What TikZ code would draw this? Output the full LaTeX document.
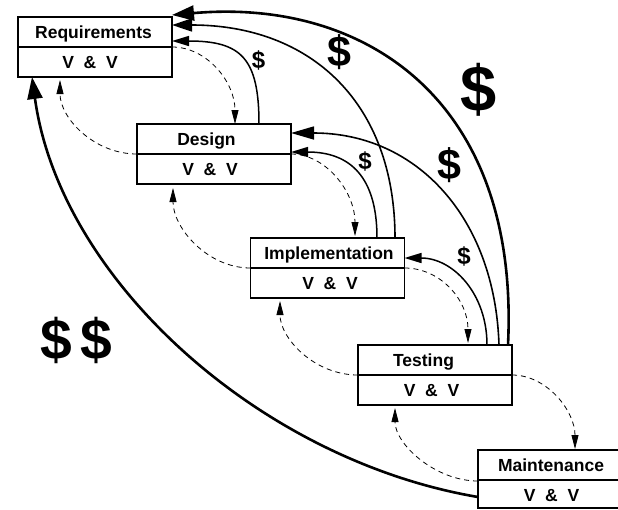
\documentclass[tikz,border=0pt]{standalone}
\usepackage{fontspec}
\setmainfont{Liberation Sans}
\usetikzlibrary{arrows.meta,calc}
\begin{document}
\begin{tikzpicture}[x=1pt,y=-1pt,
  box/.style={draw,line width=1.6pt,minimum width=154pt,minimum height=60pt,inner sep=0pt,outer sep=0pt},
  lbl/.style={font=\fontsize{17.5}{20}\selectfont\bfseries,inner sep=0pt,anchor=base},
  cost/.style={font=\fontsize{#1}{#1}\selectfont\bfseries,inner sep=0pt},
  back/.style={line width=1.5pt,-{Triangle[length=17pt,width=10pt]}},
  backmid/.style={line width=1.6pt,-{Triangle[length=20pt,width=13pt]}},
  backbig/.style={line width=1.6pt,-{Triangle[length=23pt,width=13pt]}},
  backthick/.style={line width=2.6pt,-{Triangle[length=22pt,width=15pt]}},
  vv/.style={line width=0.8pt,dash pattern=on 5pt off 4pt,-{Triangle[length=14pt,width=7pt]}},
  divline/.style={line width=1.6pt}
]
\useasboundingbox (0,0) rectangle (618,509);

% boxes
\node[box] (req) at (95,47) {};
\node[box] (des) at (214,154) {};
\node[box] (impl) at (327.5,268) {};
\node[box] (test) at (435,375) {};
\node[box,minimum height=58pt] (maint) at (555,479) {};

\foreach \b in {req,des,impl,test,maint}
  \draw[divline] ([yshift=-30pt]\b.north west) -- ([yshift=-30pt]\b.north east);

% labels
\node[lbl] (reqT) at ([xshift=-1.5pt,yshift=-21.5pt]req.north) {Requirements};
\node[lbl] (reqV) at ([xshift=-5pt,yshift=-51.5pt]req.north) {V\ \ \&\ \ V};
\node[lbl] (desT) at ([xshift=-7.5pt,yshift=-21.5pt]des.north) {Design};
\node[lbl] (desV) at ([xshift=-4pt,yshift=-51.5pt]des.north) {V\ \ \&\ \ V};
\node[lbl] (implT) at ([xshift=1.5pt,yshift=-21.5pt]impl.north) {Implementation};
\node[lbl] (implV) at ([xshift=2.5pt,yshift=-51.5pt]impl.north) {V\ \ \&\ \ V};
\node[lbl] (testT) at ([xshift=-11.5pt,yshift=-21.5pt]test.north) {Testing};
\node[lbl] (testV) at ([xshift=-3.5pt,yshift=-51.5pt]test.north) {V\ \ \&\ \ V};
\node[lbl] (maintT) at ([xshift=-4pt,yshift=-21.5pt]maint.north) {Maintenance};
\node[lbl] (maintV) at ([xshift=-3.5pt,yshift=-51.5pt]maint.north) {V\ \ \&\ \ V};

% cost labels
\node[cost=24] (d1) at (258.5,60) {\$};
\node[cost=24] (d2) at (365,161) {\$};
\node[cost=24] (d3) at (464,256) {\$};
\node[cost=43] (d4) at (339.5,52) {\$};
\node[cost=43] (d5) at (449,165) {\$};
\node[cost=65] (d6) at (479,90) {\$};
\node[cost=57] (d7) at (76.5,340) {\$\hspace{8pt}\$};

% solid feedback arrows
\draw[back] ([xshift=45pt]des.north) .. controls +(0,-66) and +(69,0) .. ([yshift=-24pt]req.north east);
\draw[back] ([xshift=49.5pt]impl.north) .. controls +(0,-60) and +(60,0) .. ([yshift=-28pt]des.north east);
\draw[backmid] ([xshift=67.5pt]impl.north) .. controls +(0,-135) and +(139,0) .. ([yshift=-8pt]req.north east);
\draw[back] ([xshift=52pt]test.north) .. controls +(0,-52) and +(48,0) .. ([yshift=-20pt]impl.north east);
\draw[backbig] ([xshift=64pt]test.north) .. controls +(-4,-127) and +(126,0) .. ([yshift=-9pt]des.north east);
\draw[backthick] ([xshift=73pt]test.north) .. controls +(12,-245) and +(193,-17) .. ([yshift=2pt]req.north east);
\draw[backthick] ([yshift=-47pt]maint.north west) .. controls +(-218,-37) and +(28,203) .. ([xshift=14pt]req.south west);

% dashed forward / backward arrows
\draw[vv] (req.east) .. controls +(35,0) and +(0,-42) .. ([xshift=21pt]des.north);
\draw[vv,shorten >=3pt] (des.west) .. controls +(-43,0) and +(0,41) .. ([xshift=-35pt]req.south);
\draw[vv,shorten >=2pt] (des.east) .. controls +(35,0) and +(0,-46) .. ([xshift=27.5pt]impl.north);
\draw[vv,shorten >=4pt] (impl.west) .. controls +(-43,0) and +(0,44) .. ([xshift=-41pt]des.south);
\draw[vv,shorten >=2pt] (impl.east) .. controls +(36,0) and +(0,-45) .. ([xshift=33pt]test.north);
\draw[vv,shorten >=3pt] (test.west) .. controls +(-44,0) and +(0,40) .. ([xshift=-47.5pt]impl.south);
\draw[vv,shorten >=1pt] (test.east) .. controls +(35,0) and +(0,-39) .. ([xshift=20pt]maint.north);
\draw[vv,shorten >=3pt] ([yshift=-31pt]maint.north west) .. controls +(-43,0) and +(0,39) .. ([xshift=-40pt]test.south);
\end{tikzpicture}
\end{document}
